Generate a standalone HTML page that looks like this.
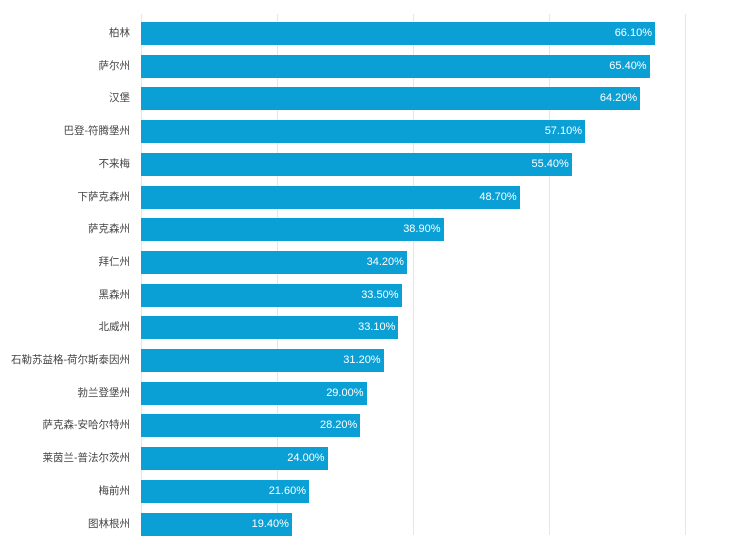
<!DOCTYPE html>
<html><head><meta charset="utf-8"><style>
body{margin:0;width:750px;height:535px;background:#fff;overflow:hidden;position:relative;font-family:"Liberation Sans","Noto Sans CJK SC",sans-serif}
.g{position:absolute;top:14px;bottom:0;width:1px;background:#e6e6e6}
.b{position:absolute;left:141px;height:23px;background:#0aa0d6;color:#fff;font-size:11px;line-height:23px;text-align:right;box-sizing:border-box;padding-right:3px}
.l{position:absolute;right:620px;font-size:10.5px;color:#444;line-height:23px;white-space:nowrap}
</style></head><body>
<div class="g" style="left:141px"></div>
<div class="g" style="left:277px"></div>
<div class="g" style="left:413px"></div>
<div class="g" style="left:549px"></div>
<div class="g" style="left:685px"></div>
<script>
const d=[["柏林",66.1],["萨尔州",65.4],["汉堡",64.2],["巴登-符腾堡州",57.1],["不来梅",55.4],["下萨克森州",48.7],["萨克森州",38.9],["拜仁州",34.2],["黑森州",33.5],["北威州",33.1],["石勒苏益格-荷尔斯泰因州",31.2],["勃兰登堡州",29.0],["萨克森-安哈尔特州",28.2],["莱茵兰-普法尔茨州",24.0],["梅前州",21.6],["图林根州",19.4]];
let h="";d.forEach((r,i)=>{const y=22+i*32.7;h+=`<div class="l" style="top:${y}px">${r[0]}</div><div class="b" style="top:${y}px;width:${(r[1]*7.776).toFixed(1)}px">${r[1].toFixed(2)}%</div>`});
document.write(h);
</script>
</body></html>
